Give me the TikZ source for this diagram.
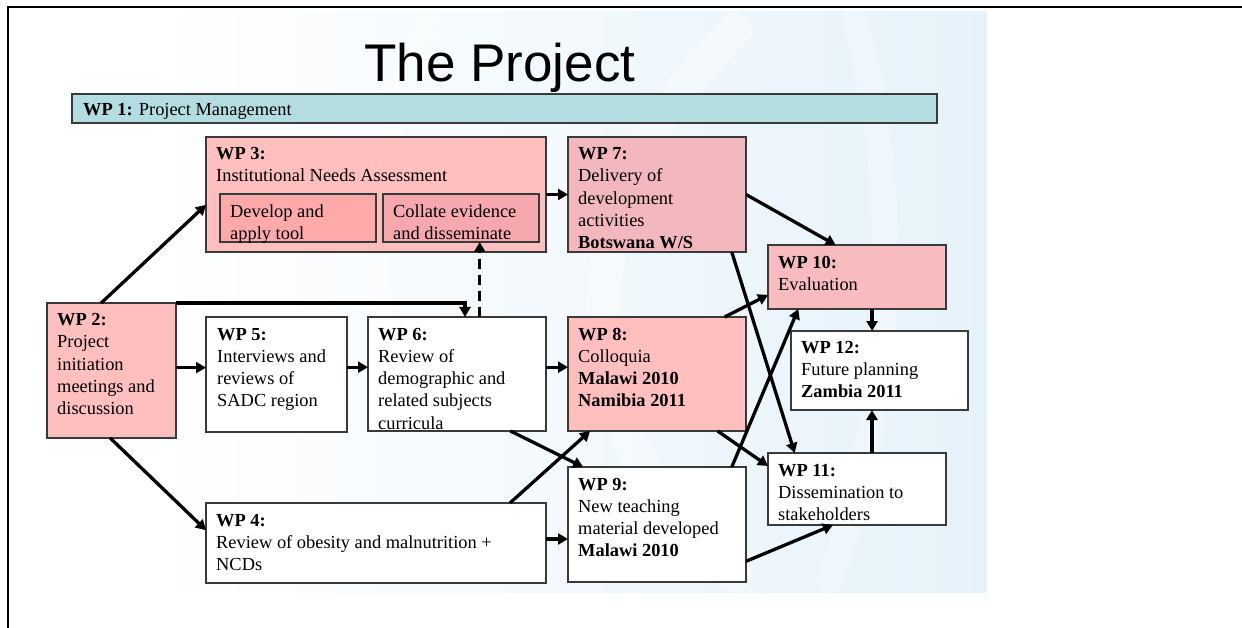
\documentclass[tikz,border=0pt]{standalone}
\usepackage{fontspec}
\setmainfont{Liberation Serif}
\newfontfamily\titlefont{Liberation Sans}
\usetikzlibrary{arrows.meta,calc}

\definecolor{boxline}{HTML}{3A3A3A}
\definecolor{wpteal}{HTML}{B4DDE1}
\definecolor{pinkA}{HTML}{FFBFBF}
\definecolor{pinkB}{HTML}{F3B7BE}
\definecolor{pinkC}{HTML}{F8BBC0}
\definecolor{pinkIn}{HTML}{FEA9AA}
\definecolor{pinkInB}{HTML}{F6A8AE}
\definecolor{wmblue}{HTML}{E6F2FA}

\newcommand\bodyfont{\fontsize{18.4}{22.2}\selectfont}

\begin{document}
\begin{tikzpicture}[x=1pt,y=-1pt,
  wpbox/.style={draw=boxline, line width=1.3pt, anchor=north west,
                inner sep=0pt, outer sep=0pt},
  txt/.style={anchor=north west, inner sep=0pt, align=left, font=\bodyfont},
  arr/.style={line width=3.3pt, -{Triangle[length=10pt,width=11pt]}},
  dasharr/.style={arr, dash pattern=on 10pt off 6pt}]

\useasboundingbox (0,0) rectangle (1242,628);
\fill[white] (0,0) rectangle (1242,628);

% pale watermark behind the chart
\shade[left color=white, right color=wmblue] (150,12) rectangle (987,592);
\draw[white, opacity=0.35, line width=34pt, line cap=round]
  (735,30) .. controls (560,200) and (560,430) .. (735,575);
\draw[white, opacity=0.3, line width=26pt, line cap=round]
  (855,20) .. controls (905,200) and (890,420) .. (830,580);
\draw[white, opacity=0.3, line width=22pt, line cap=round]
  (430,15) .. controls (380,120) and (360,260) .. (400,400);

% slide frame
\draw[line width=2pt] (8,630) -- (8,7) -- (1244,7);

% title
\node[anchor=base, inner sep=0pt, font=\titlefont\fontsize{53}{60}\selectfont]
  (title) at (500,82) {The Project};

% WP 1 bar
\node[wpbox, fill=wpteal, minimum width=865, minimum height=29] (wp1) at (72,94) {};
\node[anchor=base west, inner sep=0pt, font=\bodyfont] (t1) at (83,116)
  {\textbf{WP 1:} Project Management};

% work-package boxes
\node[wpbox, fill=pinkA, minimum width=340, minimum height=115] (wp3) at (206,137) {};
\node[wpbox, fill=pinkIn, minimum width=156, minimum height=48] (in3a) at (220,194) {};
\node[wpbox, fill=pinkInB, minimum width=156, minimum height=48] (in3b) at (383,194) {};
\node[wpbox, fill=pinkB, minimum width=178, minimum height=115] (wp7) at (568,137) {};
\node[wpbox, fill=pinkA, minimum width=129, minimum height=135] (wp2) at (47,303) {};
\node[wpbox, fill=white, minimum width=141, minimum height=115] (wp5) at (206,317) {};
\node[wpbox, fill=white, minimum width=178, minimum height=114] (wp6) at (368,317) {};
\node[wpbox, fill=pinkA, minimum width=178, minimum height=114] (wp8) at (568,317) {};
\node[wpbox, fill=pinkC, minimum width=178, minimum height=64] (wp10) at (768,245) {};
\node[wpbox, fill=white, minimum width=177, minimum height=79] (wp12) at (791,331) {};
\node[wpbox, fill=white, minimum width=178, minimum height=72] (wp11) at (768,453) {};
\node[wpbox, fill=white, minimum width=178, minimum height=115] (wp9) at (568,467) {};
\node[wpbox, fill=white, minimum width=340, minimum height=80] (wp4) at (206,503) {};

% box texts
\node[txt] (t3) at ($(wp3.north west)+(10,7)$)
  {\strut\textbf{WP 3:}\\Institutional Needs Assessment};
\node[txt] (t3a) at ($(in3a.north west)+(10,8)$) {\strut Develop and\\apply tool};
\node[txt] (t3b) at ($(in3b.north west)+(10,8)$) {\strut Collate evidence\\and disseminate};
\node[txt] (t7) at ($(wp7.north west)+(10,7)$)
  {\strut\textbf{WP 7:}\\Delivery of\\development\\activities\\\textbf{Botswana W/S}};
\node[txt] (t2) at ($(wp2.north west)+(10,7)$)
  {\strut\textbf{WP 2:}\\Project\\initiation\\meetings and\\discussion};
\node[txt] (t5) at ($(wp5.north west)+(11,7.5)$)
  {\strut\textbf{WP 5:}\\Interviews and\\reviews of\\SADC region};
\node[txt] (t6) at ($(wp6.north west)+(10,7.5)$)
  {\strut\textbf{WP 6:}\\Review of\\demographic and\\related subjects\\curricula};
\node[txt] (t8) at ($(wp8.north west)+(10,7.5)$)
  {\strut\textbf{WP 8:}\\Colloquia\\\textbf{Malawi 2010}\\\textbf{Namibia 2011}};
\node[txt] (t9) at ($(wp9.north west)+(10,7.5)$)
  {\strut\textbf{WP 9:}\\New teaching\\material developed\\\textbf{Malawi 2010}};
\node[txt] (t4) at ($(wp4.north west)+(10,7.5)$)
  {\strut\textbf{WP 4:}\\Review of obesity and malnutrition +\\NCDs};
\node[txt] (t10) at ($(wp10.north west)+(10,7.5)$)
  {\strut\textbf{WP 10:}\\Evaluation};
\node[txt] (t12) at ($(wp12.north west)+(10,6.5)$)
  {\strut\textbf{WP 12:}\\Future planning\\\textbf{Zambia 2011}};
\node[txt] (t11) at ($(wp11.north west)+(10,7.5)$)
  {\strut\textbf{WP 11:}\\Dissemination to\\stakeholders};

% anchor points for straight horizontal / vertical links
\coordinate (p25) at ($(wp5.north west)!0.44!(wp5.south west)$);
\coordinate (p56) at ($(wp6.north west)!0.44!(wp6.south west)$);
\coordinate (p68) at ($(wp8.north west)!0.44!(wp8.south west)$);
\coordinate (p49) at ($(wp9.north west)!0.626!(wp9.south west)$);
\coordinate (p26) at ($(wp6.north west)!0.545!(wp6.north east)$);
\coordinate (p63) at ($(in3b.south west)!0.62!(in3b.south east)$);
\coordinate (p1012) at ($(wp12.north west)!0.458!(wp12.north east)$);
\coordinate (p1112) at ($(wp11.north west)!0.584!(wp11.north east)$);

% connectors
\draw[arr] ($(wp2.north west)!0.42!(wp2.north east)$) -- ($(wp3.north west)!0.59!(wp3.south west)$);
\draw[arr] (wp2.east |- p25) -- (p25);
\draw[arr] ($(wp2.south west)!0.49!(wp2.south east)$) -- ($(wp4.north west)!0.34!(wp4.south west)$);
\draw[arr] (wp2.north east) -| (p26);
\draw[arr] (wp5.east |- p56) -- (p56);
\draw[arr] (wp6.east |- p68) -- (p68);
\draw[dasharr] (wp6.north -| p63) -- (p63);
\draw[arr] (wp3.east |- wp7.west) -- (wp7.west);
\draw[arr] (wp7.east) -- ($(wp10.north west)!0.38!(wp10.north east)$);
\draw[arr] ($(wp7.south west)!0.92!(wp7.south east)$) -- ($(wp11.north west)!0.15!(wp11.north east)$);
\draw[arr] ($(wp8.north west)!0.88!(wp8.north east)$) -- ($(wp10.north west)!0.78!(wp10.south west)$);
\draw[arr] ($(wp6.south west)!0.80!(wp6.south east)$) -- ($(wp9.north west)!0.085!(wp9.north east)$);
\draw[arr] ($(wp4.north west)!0.894!(wp4.north east)$) -- ($(wp8.south west)!0.124!(wp8.south east)$);
\draw[arr] (wp4.east |- p49) -- (p49);
\draw[arr] ($(wp9.north west)!0.92!(wp9.north east)$) -- ($(wp10.south west)!0.17!(wp10.south east)$);
\draw[arr] ($(wp8.south west)!0.84!(wp8.south east)$) -- ($(wp11.north west)!0.18!(wp11.south west)$);
\draw[arr] ($(wp9.north east)!0.82!(wp9.south east)$) -- ($(wp11.south west)!0.365!(wp11.south east)$);
\draw[arr] (wp10.south -| p1012) -- (p1012);
\draw[arr] (p1112) -- (wp12.south -| p1112);

\end{tikzpicture}
\end{document}
